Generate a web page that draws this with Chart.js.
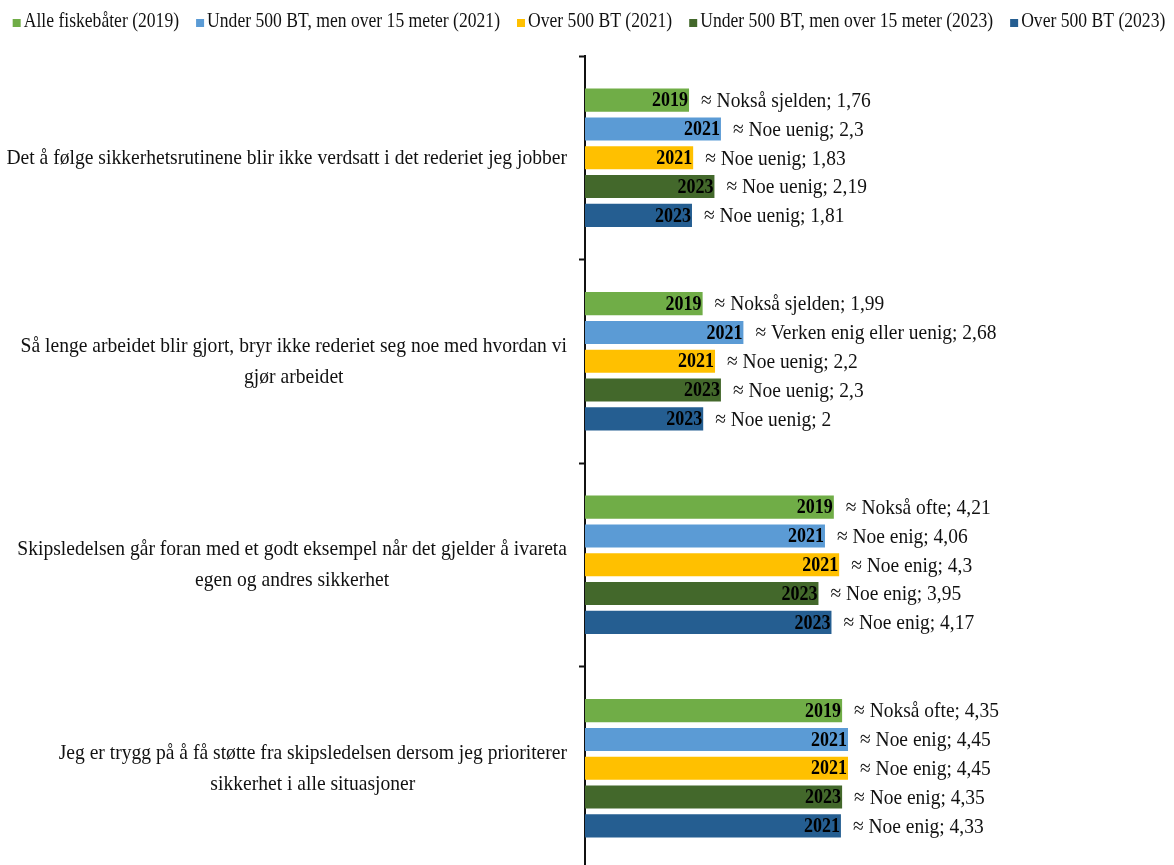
<!DOCTYPE html>
<html>
<head>
<meta charset="utf-8">
<script src="https://cdn.jsdelivr.net/npm/chart.js@4/dist/chart.umd.min.js"></script>
<style>
  html, body { margin: 0; padding: 0; background: #ffffff; overflow: hidden; }
  #wrap { position: relative; width: 1174px; height: 880px; }
</style>
</head>
<body>
<div id="wrap"><canvas id="chart"></canvas></div>
<script>
// Statements (one category per statement, each split into its printed lines)
const categories = [
  ["Det å følge sikkerhetsrutinene blir ikke verdsatt i det rederiet jeg jobber"],
  ["Så lenge arbeidet blir gjort, bryr ikke rederiet seg noe med hvordan vi", "gjør arbeidet"],
  ["Skipsledelsen går foran med et godt eksempel når det gjelder å ivareta", "egen og andres sikkerhet"],
  ["Jeg er trygg på å få støtte fra skipsledelsen dersom jeg prioriterer", "sikkerhet i alle situasjoner"]
];

// Survey groups
const seriesNames = [
  "Alle fiskebåter (2019)",
  "Under 500 BT, men over 15 meter (2021)",
  "Over 500 BT (2021)",
  "Under 500 BT, men over 15 meter (2023)",
  "Over 500 BT (2023)"
];

// Mean scores per statement
const valuesAll2019   = [1.76, 1.99, 4.21, 4.35];
const valuesUnder2021 = [2.3, 2.68, 4.06, 4.45];
const valuesOver2021  = [1.83, 2.2, 4.3, 4.45];
const valuesUnder2023 = [2.19, 2.3, 3.95, 4.35];
const valuesOver2023  = [1.81, 2, 4.17, 4.33];

// Nearest answer option per mean score
const answersAll2019   = ["Nokså sjelden", "Nokså sjelden", "Nokså ofte", "Nokså ofte"];
const answersUnder2021 = ["Noe uenig", "Verken enig eller uenig", "Noe enig", "Noe enig"];
const answersOver2021  = ["Noe uenig", "Noe uenig", "Noe enig", "Noe enig"];
const answersUnder2023 = ["Noe uenig", "Noe uenig", "Noe enig", "Noe enig"];
const answersOver2023  = ["Noe uenig", "Noe uenig", "Noe enig", "Noe enig"];

// Year tag printed inside each bar
const yearsAll2019   = ["2019", "2019", "2019", "2019"];
const yearsUnder2021 = ["2021", "2021", "2021", "2021"];
const yearsOver2021  = ["2021", "2021", "2021", "2021"];
const yearsUnder2023 = ["2023", "2023", "2023", "2023"];
const yearsOver2023  = ["2023", "2023", "2023", "2021"];

const seriesValues  = [valuesAll2019, valuesUnder2021, valuesOver2021, valuesUnder2023, valuesOver2023];
const seriesAnswers = [answersAll2019, answersUnder2021, answersOver2021, answersUnder2023, answersOver2023];
const seriesYears   = [yearsAll2019, yearsUnder2021, yearsOver2021, yearsUnder2023, yearsOver2023];
const seriesColors  = ["#70AD47", "#5B9BD5", "#FFC000", "#43682B", "#255E91"];

const SERIF = '"Liberation Serif", "Times New Roman", serif';
const fmt = v => String(v).replace('.', ',');

// Draw text squeezed horizontally (narrow Times look)
function squeezedText(ctx, text, x, y, font, align, sx) {
  ctx.save();
  ctx.font = font;
  ctx.textAlign = align;
  ctx.textBaseline = 'middle';
  ctx.translate(x, y);
  ctx.scale(sx, 1);
  ctx.fillText(text, 0, 0);
  ctx.restore();
}
function squeezedWidth(ctx, text, font, sx) {
  ctx.save();
  ctx.font = font;
  const w = ctx.measureText(text).width * sx;
  ctx.restore();
  return w;
}

const LEGEND_FONT = '22px ' + SERIF;
const LEGEND_SX = 0.80;
const LABEL_FONT = '22px ' + SERIF;
const LABEL_SX = 0.89;
const YEAR_FONT = 'bold 20px ' + SERIF;
const YEAR_SX = 0.9;
const VALUE_FONT = '22px ' + SERIF;
const VALUE_SX = 0.885;

// Legend row across the top
const legendRow = {
  id: 'legendRow',
  afterDraw(chart) {
    const ctx = chart.ctx;
    const box = 8, gap = 3, itemGap = 17, cy = 21;
    const items = chart.data.datasets.map(ds => ({
      text: ds.label, color: ds.backgroundColor,
      w: squeezedWidth(ctx, ds.label, LEGEND_FONT, LEGEND_SX)
    }));
    const total = items.reduce((s, it) => s + box + gap + it.w, 0) + itemGap * (items.length - 1);
    let x = (chart.width - total) / 2 + 2;
    items.forEach(it => {
      ctx.fillStyle = it.color;
      ctx.fillRect(x, cy - box / 2 + 2, box, box);
      ctx.fillStyle = '#111';
      squeezedText(ctx, it.text, x + box + gap, cy, LEGEND_FONT, 'left', LEGEND_SX);
      x += box + gap + it.w + itemGap;
    });
  }
};

// Statement text to the left of the axis, lines centred within each block
const categoryText = {
  id: 'categoryText',
  afterDraw(chart) {
    const ctx = chart.ctx;
    const scale = chart.scales.y;
    const right = scale.right - 18;
    const lineH = 31;
    ctx.fillStyle = '#111';
    categories.forEach((lines, i) => {
      const cy = scale.getPixelForTick(i);
      const widths = lines.map(l => squeezedWidth(ctx, l, LABEL_FONT, LABEL_SX));
      const blockW = Math.max(...widths);
      const cx = right - blockW / 2;
      const y0 = cy - (lines.length - 1) * lineH / 2;
      lines.forEach((l, k) => squeezedText(ctx, l, cx, y0 + k * lineH, LABEL_FONT, 'center', LABEL_SX));
    });
  }
};

// Year tag inside the bar end, answer and score after it
const barText = {
  id: 'barText',
  afterDatasetsDraw(chart) {
    const ctx = chart.ctx;
    chart.data.datasets.forEach((ds, d) => {
      const meta = chart.getDatasetMeta(d);
      meta.data.forEach((bar, i) => {
        ctx.fillStyle = '#000';
        squeezedText(ctx, seriesYears[d][i], bar.x - 1, bar.y + 1, YEAR_FONT, 'right', YEAR_SX);
        ctx.fillStyle = '#111';
        squeezedText(ctx, '≈ ' + seriesAnswers[d][i] + '; ' + fmt(ds.data[i]),
          bar.x + 12, bar.y + 1, VALUE_FONT, 'left', VALUE_SX);
      });
    });
  }
};

new Chart(document.getElementById('chart'), {
  type: 'bar',
  data: {
    labels: categories,
    datasets: seriesNames.map((name, d) => ({
      label: name,
      data: seriesValues[d],
      backgroundColor: seriesColors[d],
      borderWidth: 0,
      categoryPercentage: 0.708,
      barPercentage: 0.8
    }))
  },
  options: {
    indexAxis: 'y',
    responsive: true,
    maintainAspectRatio: false,
    animation: false,
    devicePixelRatio: 1,
    layout: { padding: { top: 56, right: 27.5, bottom: 10, left: 0 } },
    plugins: {
      legend: { display: false },
      tooltip: { enabled: false }
    },
    scales: {
      x: { display: false, min: 0, max: 9.5 },
      y: {
        position: 'left',
        ticks: { display: false },
        grid: {
          display: true, drawOnChartArea: false, drawTicks: true,
          tickLength: 6, tickColor: '#111', tickWidth: 2, offset: true
        },
        border: { display: true, color: '#111', width: 2 },
        afterFit(scale) { scale.width = 585; }
      }
    }
  },
  plugins: [legendRow, categoryText, barText]
});
</script>
</body>
</html>
